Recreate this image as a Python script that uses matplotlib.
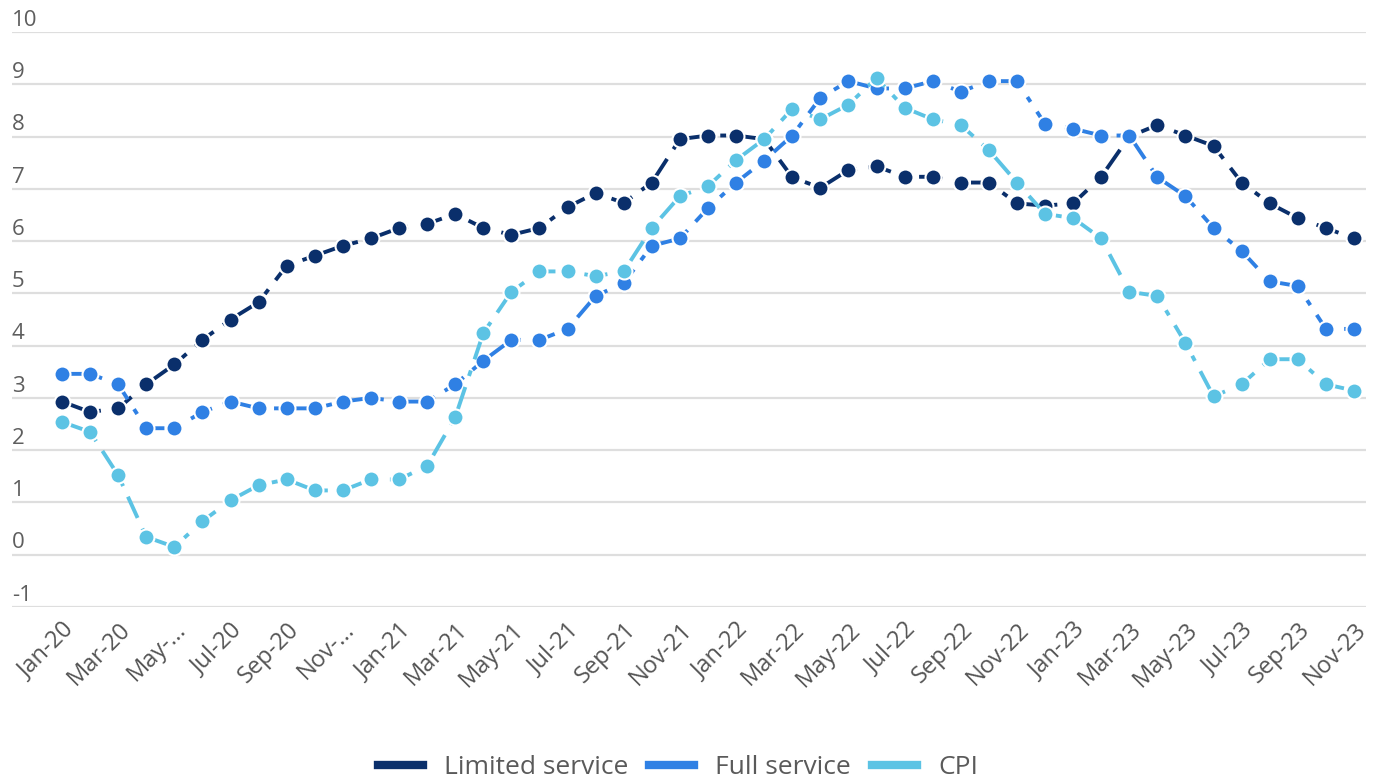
import matplotlib
matplotlib.use("Agg")
import matplotlib.pyplot as plt
from matplotlib.lines import Line2D

plt.rcParams['font.family'] = ['Open Sans', 'DejaVu Sans']

months = [f"{m}-{y}" for y in ("20", "21", "22", "23")
          for m in ("Jan", "Feb", "Mar", "Apr", "May", "Jun",
                    "Jul", "Aug", "Sep", "Oct", "Nov", "Dec")][:47]

tick_labels = ["Jan-20", "Mar-20", "May-...", "Jul-20", "Sep-20", "Nov-...",
               "Jan-21", "Mar-21", "May-21", "Jul-21", "Sep-21", "Nov-21",
               "Jan-22", "Mar-22", "May-22", "Jul-22", "Sep-22", "Nov-22",
               "Jan-23", "Mar-23", "May-23", "Jul-23", "Sep-23", "Nov-23"]

limited_service = [2.93, 2.73, 2.80, 3.26, 3.64, 4.11, 4.50, 4.83, 5.53, 5.72,
                   5.91, 6.05, 6.25, 6.33, 6.52, 6.25, 6.12, 6.25, 6.65, 6.92,
                   6.73, 7.12, 7.95, 8.02, 8.02, 7.95, 7.22, 7.02, 7.36, 7.43,
                   7.23, 7.23, 7.12, 7.12, 6.72, 6.68, 6.72, 7.23, 8.00, 8.22,
                   8.02, 7.82, 7.12, 6.72, 6.44, 6.25, 6.05]

full_service = [3.46, 3.46, 3.26, 2.42, 2.42, 2.73, 2.93, 2.80, 2.80, 2.80,
                2.93, 3.00, 2.93, 2.93, 3.26, 3.71, 4.11, 4.11, 4.32, 4.95,
                5.20, 5.91, 6.05, 6.63, 7.12, 7.54, 8.02, 8.74, 9.06, 8.92,
                8.92, 9.06, 8.86, 9.06, 9.06, 8.24, 8.15, 8.02, 8.02, 7.22,
                6.86, 6.25, 5.81, 5.23, 5.14, 4.32, 4.32]

cpi = [2.54, 2.35, 1.52, 0.34, 0.15, 0.64, 1.04, 1.33, 1.44, 1.23,
       1.23, 1.44, 1.44, 1.70, 2.63, 4.24, 5.03, 5.42, 5.42, 5.33,
       5.42, 6.25, 6.86, 7.05, 7.55, 7.95, 8.53, 8.33, 8.61, 9.12,
       8.55, 8.33, 8.22, 7.74, 7.12, 6.52, 6.44, 6.05, 5.03, 4.95,
       4.05, 3.03, 3.26, 3.74, 3.74, 3.26, 3.14]

series = [("Limited service", limited_service, "#0a2f6b"),
          ("Full service", full_service, "#2f80e4"),
          ("CPI", cpi, "#5cc3e4")]

W, H = 1374, 784
fig = plt.figure(figsize=(W / 100, H / 100), dpi=100)
ax = fig.add_axes([12 / W, (H - 607) / H, (1366 - 12) / W, (607 - 32) / H])

x = list(range(len(months)))
step = (1354 - 62) / 46
ax.set_xlim(-(62 - 12) / step, 46 + (1366 - 1354) / step)
ax.set_ylim(-1, 10)

for name, vals, color in series:
    ax.plot(x, vals, color=color, lw=2.8, dashes=(6, 3, 1.5, 3),
            marker="o", ms=11.5, mfc=color, mec="white", mew=1.5,
            clip_on=False, zorder=3, label=name)

for yv in range(-1, 11):
    ax.axhline(yv, color="#dedede", lw=1.6, zorder=1)
    ax.text(0.0, yv + 0.12, str(yv), transform=ax.get_yaxis_transform(),
            ha="left", va="baseline", fontsize=16, color="#5e5e5e")

for s in ax.spines.values():
    s.set_visible(False)
ax.set_yticks([])
ax.set_xticks(x[::2])
ax.set_xticklabels(tick_labels, rotation=45, ha="right", rotation_mode="anchor",
                   fontsize=17, color="#555555")
ax.tick_params(axis="x", length=0, pad=8)

handles = [Line2D([0], [0], color=c, lw=6) for _, _, c in series]
fig.legend(handles, [n for n, _, _ in series], loc="center",
           bbox_to_anchor=(0.4935, (H - 768) / H), ncol=3, frameon=False,
           fontsize=19, handlelength=1.7, handletextpad=0.8,
           columnspacing=0.8, labelcolor="#5a5a5a")

fig.savefig("out.png", dpi=100, facecolor="white")
